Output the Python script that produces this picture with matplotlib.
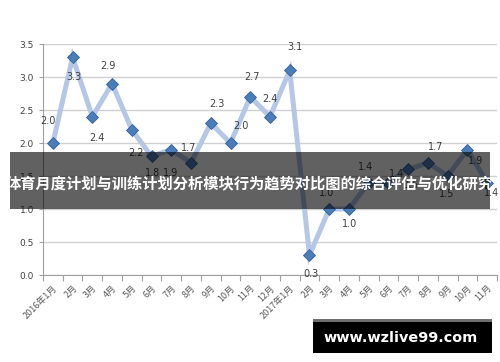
import numpy as np
import matplotlib.pyplot as plt
from matplotlib.patches import Rectangle

plt.rcParams['font.family'] = ['DejaVu Sans', 'Noto Sans CJK SC']

months = ['2016年1月', '2月', '3月', '4月', '5月', '6月', '7月', '8月', '9月', '10月',
          '11月', '12月', '2017年1月', '2月', '3月', '4月', '5月', '6月', '7月', '8月',
          '9月', '10月', '11月']
values = [2.0, 3.3, 2.4, 2.9, 2.2, 1.8, 1.9, 1.7, 2.3, 2.0, 2.7, 2.4, 3.1,
          0.3, 1.0, 1.0, 1.4, 1.4, 1.6, 1.7, 1.5, 1.9, 1.4]

# label offsets in pixels (dx, dy), roughly where Excel put them
label_off = [(-5, 22), (1, -20), (5, -21), (-4, 18), (4, -23), (1, -17), (-1, -23),
             (-2, 15), (6, 19), (10, 17), (2, 20), (0, 18), (5, 23), (2, -19),
             (-3, 16), (1, -15), (-3, 16), (8, 9), (3, -16), (8, 16), (-1, -18),
             (8, -11), (4, -10)]

title = '体育月度计划与训练计划分析模块行为趋势对比图的综合评估与优化研究'
watermark = 'www.wzlive99.com'

fig = plt.figure(figsize=(5, 3.62), dpi=100)
ax = fig.add_axes([0.086, 0.2403, 0.908, 0.6381])

x = np.arange(len(values))
ax.plot(x, values, color='#B4C7E7', lw=3.6, zorder=2, solid_joinstyle='miter')
ax.plot(x, values, ls='none', marker='D', ms=6.4, mfc='#4A7EBB', mec='#33609A',
        mew=0.6, zorder=3)

for xi, v, (dx, dy) in zip(x, values, label_off):
    ax.annotate(f'{v:.1f}', (xi, v), xytext=(dx, dy), textcoords='offset pixels',
                ha='center', va='center', fontsize=7, color='#404040', zorder=4)

ax.set_xlim(-0.5, len(values) - 0.5)
ax.set_ylim(0, 3.5)
ax.set_yticks(np.arange(0, 3.51, 0.5))
ax.set_yticklabels([f'{t:.1f}' for t in np.arange(0, 3.51, 0.5)])
ax.yaxis.grid(True, color='#D0D0D0', lw=1)
ax.set_axisbelow(True)

ax.set_xticks(np.arange(-0.5, len(values), 1))
ax.set_xticklabels([])
ax.set_xticks(x, minor=True)
ax.set_xticklabels(months, minor=True, rotation=45, ha='right',
                   rotation_mode='anchor', fontsize=6.5, color='#595959',
                   family=['Noto Sans CJK SC', 'DejaVu Sans'])
ax.tick_params(axis='x', which='minor', length=0, pad=6)
ax.tick_params(axis='x', which='major', length=4, color='#A0A0A0')
ax.tick_params(axis='y', length=3, color='#A0A0A0', labelsize=6.5, labelcolor='#404040')

for s in ['top', 'right']:
    ax.spines[s].set_visible(False)
for s in ['left', 'bottom']:
    ax.spines[s].set_color('#A0A0A0')

# dark banner with title
fig.patches.append(Rectangle((10 / 500, 1 - 209 / 362), 480 / 500, 57 / 362,
                             transform=fig.transFigure, facecolor='black',
                             alpha=0.62, zorder=10))
fig.text(250 / 500, 1 - 183 / 362, title, ha='center', va='center', color='white',
         fontsize=11, fontweight='bold', family=['Noto Sans CJK SC', 'DejaVu Sans'],
         zorder=11)

# watermark box
fig.patches.append(Rectangle((313 / 500, 1 - 353 / 362), 179 / 500, 34 / 362,
                             transform=fig.transFigure, facecolor='black', zorder=10))
fig.patches.append(Rectangle((313 / 500, 1 - 322 / 362), 179 / 500, 3 / 362,
                             transform=fig.transFigure, facecolor='#6E6E6E', zorder=11))
fig.text(401 / 500, 1 - 338 / 362, watermark, ha='center', va='center', color='white',
         fontsize=10.4, fontweight='bold', zorder=12)

fig.savefig('out.png', dpi=100)
